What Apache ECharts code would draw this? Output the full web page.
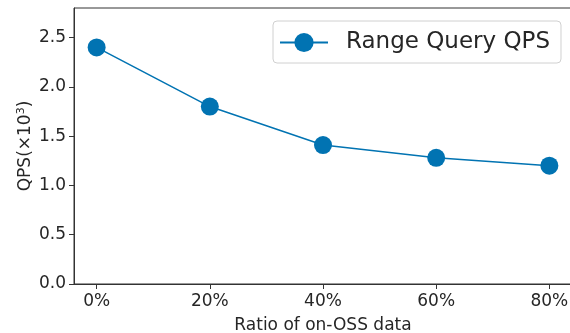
<!DOCTYPE html>
<html><head><meta charset="utf-8">
<script src="https://cdn.jsdelivr.net/npm/echarts@6/dist/echarts.min.js"></script>
<style>html,body{margin:0;padding:0;background:#fff}#c{width:570px;height:333px}</style>
</head><body><div id="c"></div>
<script>
const categories = ['0%', '20%', '40%', '60%', '80%'];
const qpsValues = [2.40, 1.80, 1.41, 1.28, 1.20];
const yTicks = [0, 0.5, 1.0, 1.5, 2.0, 2.5];
const seriesName = 'Range Query QPS';
const xTitle = 'Ratio of on-OSS data';
const yTitle = 'QPS(×10{sup|3})';

const txt = '#262626';
const font = 'DejaVu Sans';
const chart = echarts.init(document.getElementById('c'), null, {renderer: 'canvas'});
chart.setOption({
  animation: false,
  textStyle: {fontFamily: font},
  grid: {left: 74, top: 8, width: 498, bottom: 49, show: true, borderColor: '#333', borderWidth: 1, containLabel: false, outerBoundsMode: 'none'},
  legend: {
    left: 273, top: 21, padding: [10, 11, 9, 6],
    borderColor: '#d0d0d0', borderWidth: 1, borderRadius: 4,
    itemWidth: 48, itemHeight: 24,
    textStyle: {fontFamily: font, fontSize: 23, color: txt, padding: [0, 0, 0, 13]},
    data: [seriesName]
  },
  xAxis: {
    type: 'value', min: -0.2, max: 4.2,
    name: xTitle, nameLocation: 'middle', nameGap: 33, nameMoveOverlap: false,
    nameTextStyle: {fontFamily: font, fontSize: 17, color: txt},
    splitLine: {show: false},
    axisLine: {show: true, onZero: false, lineStyle: {color: '#333'}},
    axisTick: {show: true, customValues: categories.map((c, i) => i), length: 5, lineStyle: {color: '#333'}},
    axisLabel: {customValues: categories.map((c, i) => i), formatter: v => categories[Math.round(v)], fontFamily: font, fontSize: 17, color: txt, margin: 9}
  },
  yAxis: {
    type: 'value', min: 0, max: 2.8,
    name: yTitle, nameLocation: 'middle', nameGap: 39, nameMoveOverlap: false,
    nameTextStyle: {fontFamily: font, fontSize: 17, color: txt,
      rich: {sup: {fontFamily: font, fontSize: 11, color: txt, verticalAlign: 'top', padding: [0, 0, 8, 0]}}},
    splitLine: {show: false},
    axisLine: {show: true, onZero: false, lineStyle: {color: '#333'}},
    axisTick: {show: true, customValues: yTicks, length: 5, lineStyle: {color: '#333'}},
    axisLabel: {customValues: yTicks, formatter: v => v.toFixed(1), fontFamily: font, fontSize: 17, color: txt, margin: 8}
  },
  series: [{
    name: seriesName, type: 'line',
    data: qpsValues.map((v, i) => [i, v]),
    symbol: 'circle', symbolSize: 18,
    itemStyle: {color: '#0173B2'},
    lineStyle: {color: '#0173B2', width: 1.5}
  }]
});
</script></body></html>
